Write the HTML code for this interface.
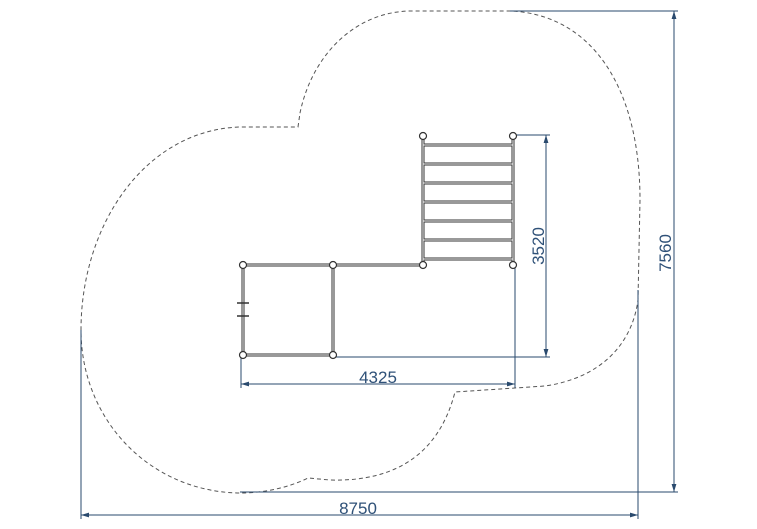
<!DOCTYPE html>
<html><head><meta charset="utf-8"><style>
html,body{margin:0;padding:0;background:#fff;}
svg{display:block;}
text{font-family:"Liberation Sans",sans-serif;font-size:17px;fill:#2f5178;}
</style></head><body>
<svg width="757" height="529" viewBox="0 0 757 529" xmlns="http://www.w3.org/2000/svg">
<defs>
<marker id="a" viewBox="0 0 10 10" refX="10" refY="5" markerWidth="8" markerHeight="8" orient="auto-start-reverse"><path d="M0,2 L10,5 L0,8 Z" fill="#2a4a6e"/></marker>
</defs>
<path d="M298,127 L300,113 C312,55 355,12 410,11 L510,11 C590,14 640,85 640,200 L638,300 C632,345 600,378 545,386 L455,392 C440,450 400,482 330,480 L308,478 C290,487 265,493 240,493 C150,492 81,420 81,330 C81,225 145,130 240,127 Z" fill="none" stroke="#555" stroke-width="1" stroke-dasharray="4,3"/>
<g stroke="#2a4a6e" stroke-width="1" fill="none">
<line x1="513" y1="135" x2="550" y2="135"/>
<line x1="333" y1="357" x2="550" y2="357"/>
<line x1="546" y1="135" x2="546" y2="357" marker-start="url(#a)" marker-end="url(#a)"/>
<line x1="241" y1="357" x2="241" y2="388"/>
<line x1="515" y1="265" x2="515" y2="388"/>
<line x1="241" y1="384" x2="515" y2="384" marker-start="url(#a)" marker-end="url(#a)"/>
<line x1="510" y1="11" x2="678" y2="11"/>
<line x1="240" y1="492" x2="678" y2="492"/>
<line x1="674" y1="11" x2="674" y2="492" marker-start="url(#a)" marker-end="url(#a)"/>
<line x1="81" y1="330" x2="81" y2="519"/>
<line x1="638" y1="290" x2="638" y2="519"/>
<line x1="81" y1="515" x2="638" y2="515" marker-start="url(#a)" marker-end="url(#a)"/>
</g>
<text x="378" y="383" text-anchor="middle">4325</text>
<text x="358" y="514" text-anchor="middle">8750</text>
<text transform="translate(544,246) rotate(-90)" text-anchor="middle">3520</text>
<text transform="translate(671,253) rotate(-90)" text-anchor="middle">7560</text>
<g stroke="#333" fill="none">
<g stroke-width="3"><line x1="423" y1="136" x2="423" y2="265"/><line x1="513" y1="136" x2="513" y2="265"/>
<line x1="423" y1="145" x2="513" y2="145"/><line x1="423" y1="164" x2="513" y2="164"/><line x1="423" y1="183" x2="513" y2="183"/><line x1="423" y1="202" x2="513" y2="202"/><line x1="423" y1="221" x2="513" y2="221"/><line x1="423" y1="240" x2="513" y2="240"/><line x1="423" y1="259" x2="513" y2="259"/>
<line x1="243" y1="265" x2="423" y2="265"/><line x1="243" y1="355" x2="333" y2="355"/><line x1="243" y1="265" x2="243" y2="355"/><line x1="333" y1="265" x2="333" y2="355"/></g>
<g stroke="#fff" stroke-width="1"><line x1="423" y1="136" x2="423" y2="265"/><line x1="513" y1="136" x2="513" y2="265"/>
<line x1="423" y1="145" x2="513" y2="145"/><line x1="423" y1="164" x2="513" y2="164"/><line x1="423" y1="183" x2="513" y2="183"/><line x1="423" y1="202" x2="513" y2="202"/><line x1="423" y1="221" x2="513" y2="221"/><line x1="423" y1="240" x2="513" y2="240"/><line x1="423" y1="259" x2="513" y2="259"/>
<line x1="243" y1="265" x2="423" y2="265"/><line x1="243" y1="355" x2="333" y2="355"/><line x1="243" y1="265" x2="243" y2="355"/><line x1="333" y1="265" x2="333" y2="355"/></g>
<line x1="237" y1="303" x2="249" y2="303" stroke-width="1.5"/><line x1="237" y1="316" x2="249" y2="316" stroke-width="1.5"/>
<g fill="#fff" stroke-width="1.2"><circle cx="423" cy="136" r="3.5"/><circle cx="513" cy="136" r="3.5"/><circle cx="423" cy="265" r="3.5"/><circle cx="513" cy="265" r="3.5"/><circle cx="243" cy="265" r="3.5"/><circle cx="333" cy="265" r="3.5"/><circle cx="243" cy="355" r="3.5"/><circle cx="333" cy="355" r="3.5"/></g>
</g>
</svg>
</body></html>
